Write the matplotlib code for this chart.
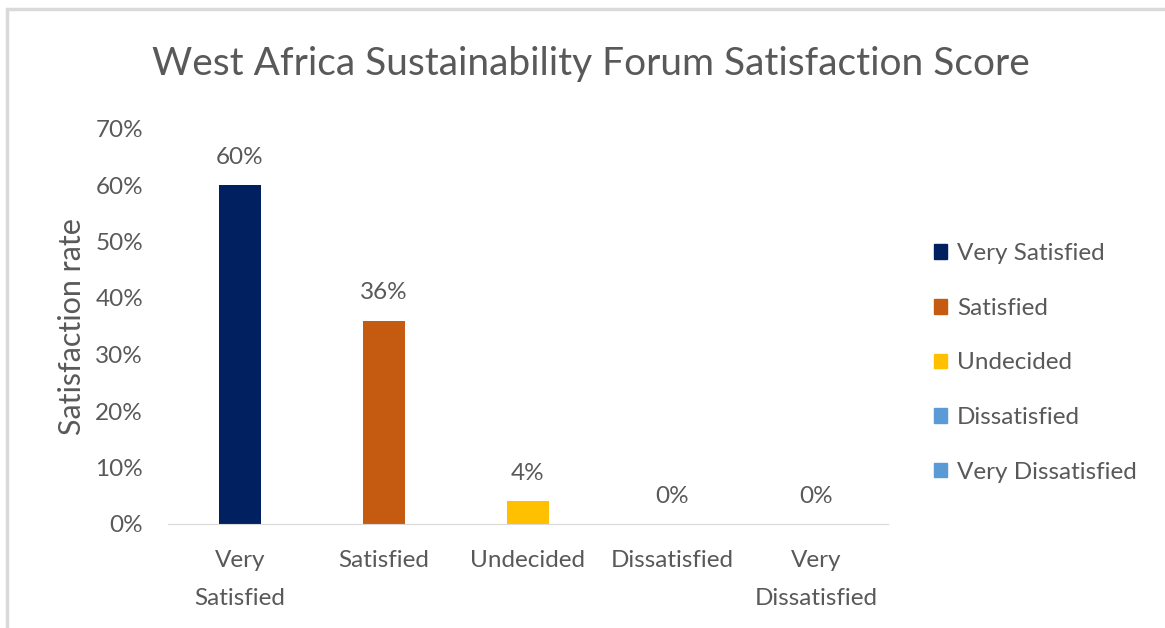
import matplotlib.pyplot as plt
from matplotlib.patches import Patch, Rectangle
from matplotlib.ticker import PercentFormatter

# Chart data
categories = ['Very Satisfied', 'Satisfied', 'Undecided', 'Dissatisfied', 'Very Dissatisfied']
tick_labels = ['Very\nSatisfied', 'Satisfied', 'Undecided', 'Dissatisfied', 'Very\nDissatisfied']
scores = [0.60, 0.36, 0.04, 0.00, 0.00]
bar_colors = ['#002060', '#C55A11', '#FFC000', '#5B9BD5', '#5B9BD5']

text_grey = '#595959'
plt.rcParams['font.family'] = ['Lato', 'DejaVu Sans']

fig = plt.figure(figsize=(11.65, 6.28), dpi=100)

# Light grey chart border (cut off at right and bottom)
fig.patches.append(Rectangle((7 / 1165, -0.05), 1.2, 1 - 9 / 628 + 0.05,
                             transform=fig.transFigure, fill=False,
                             edgecolor='#d9d9d9', linewidth=2.5))

ax = fig.add_axes([168 / 1165, 1 - 524 / 628, 720 / 1165, 395.5 / 628])

x = range(len(categories))
bars = ax.bar(x, scores, width=0.285, color=bar_colors)

# Data labels above bars
for xi, v in zip(x, scores):
    ax.annotate('{:.0%}'.format(v), (xi, v), xytext=(0, 20), textcoords='offset points',
                ha='center', va='center', fontsize=17.5, color=text_grey)

ax.set_xlim(-0.5, len(categories) - 0.5)
ax.set_ylim(0, 0.7)
ax.set_yticks([i / 10 for i in range(8)])
ax.yaxis.set_major_formatter(PercentFormatter(1.0, decimals=0))
ax.set_xticks(list(x))
ax.set_xticklabels(tick_labels, linespacing=2.0)

for s in ['top', 'right', 'left']:
    ax.spines[s].set_visible(False)
ax.spines['bottom'].set_color('#d9d9d9')
ax.tick_params(axis='both', length=0, labelsize=17.5, labelcolor=text_grey)
ax.tick_params(axis='x', pad=19)
ax.tick_params(axis='y', pad=18)

ax.set_ylabel('Satisfaction rate', fontsize=22, color=text_grey, labelpad=7)

fig.text(591 / 1165, 1 - 64 / 628, 'West Africa Sustainability Forum Satisfaction Score',
         ha='center', va='center', fontsize=28, color=text_grey)

# Legend
handles = [Patch(color=c, label=l) for c, l in zip(bar_colors, categories)]
fig.legend(handles=handles, loc='center left', bbox_to_anchor=(934 / 1165, 1 - 363 / 628),
           frameon=False, fontsize=17.5, labelcolor=text_grey, labelspacing=1.38,
           handlelength=0.55, handleheight=0.55, handletextpad=0.4, borderpad=0,
           borderaxespad=0)

fig.savefig('out.png', dpi=100, facecolor='white')
